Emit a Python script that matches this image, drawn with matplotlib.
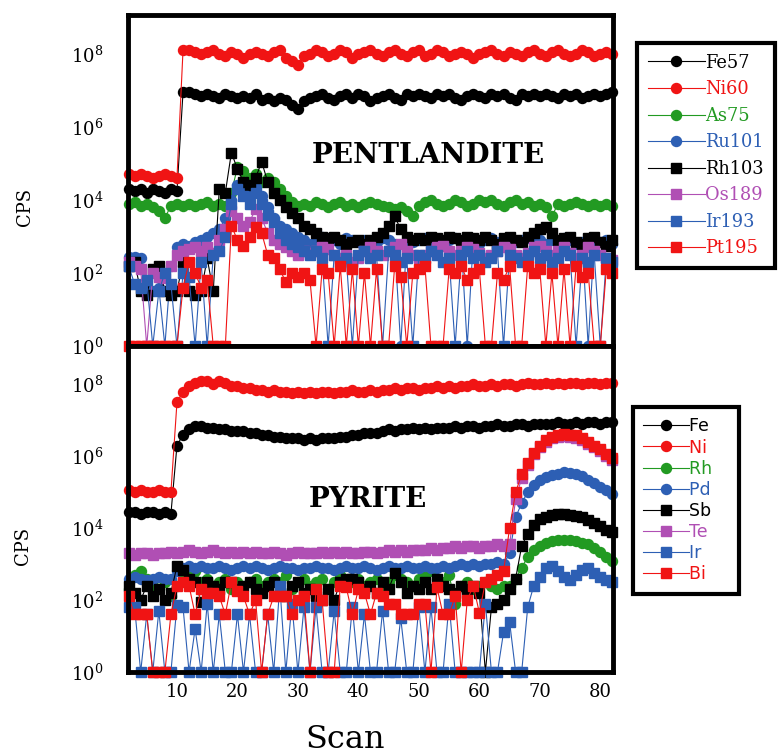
import numpy as np
import matplotlib

matplotlib.use("Agg")
import matplotlib.pyplot as plt
from matplotlib.lines import Line2D

plt.rcParams.update({
    "font.family": "DejaVu Serif",
    "mathtext.fontset": "dejavuserif",
})

# ── Data (log10 of CPS, 0 = no counts) ───────────────────────────────────────
scans = np.arange(2, 83)

# Pentlandite
fe57 = [4.3, 4.25, 4.3, 4.2, 4.3, 4.25, 4.2, 4.3, 4.25, 6.95,
        6.95, 6.9, 6.85, 6.9, 6.85, 6.8, 6.9, 6.85, 6.8, 6.85,
        6.8, 6.9, 6.75, 6.8, 6.7, 6.8, 6.75, 6.6, 6.5, 6.7,
        6.8, 6.85, 6.9, 6.8, 6.75, 6.85, 6.9, 6.8, 6.9, 6.85,
        6.7, 6.8, 6.85, 6.9, 6.8, 6.75, 6.9, 6.85, 6.9,
        6.85, 6.8, 6.9, 6.85, 6.9, 6.8, 6.75, 6.85, 6.9, 6.85,
        6.8, 6.9, 6.85, 6.9, 6.8, 6.75, 6.9, 6.85, 6.9, 6.85,
        6.9, 6.85, 6.8, 6.9, 6.85, 6.9, 6.8, 6.85, 6.9, 6.85, 6.9, 6.95]
ni60 = [4.7, 4.65, 4.7, 4.65, 4.6, 4.65, 4.7, 4.65, 4.6, 8.1,
        8.1, 8.05, 8.0, 8.05, 8.1, 8.0, 7.95, 8.05, 8.0, 7.9,
        8.0, 8.05, 8.0, 7.95, 8.05, 8.1, 7.9, 7.8, 7.7, 7.95,
        8.0, 8.1, 8.05, 7.95, 8.0, 8.1, 8.05, 7.9, 8.0, 8.05,
        8.1, 8.0, 7.95, 8.05, 8.1, 8.0, 7.95, 8.05, 8.1,
        7.95, 8.0, 8.1, 8.05, 7.95, 8.0, 8.05, 8.0, 7.9, 8.0,
        8.05, 8.1, 8.0, 7.95, 8.05, 8.0, 7.95, 8.05, 8.1, 8.0,
        7.95, 8.05, 8.1, 8.0, 7.95, 8.0, 8.1, 8.05, 7.95, 8.0, 8.05, 8.0]
as75 = [3.9, 3.95, 3.85, 3.9, 3.8, 3.7, 3.5, 3.85, 3.9, 3.85,
        3.9, 3.85, 3.9, 3.95, 3.85, 3.9, 3.85, 4.2, 4.9, 4.8,
        4.6, 4.7, 4.5, 4.6, 4.5, 4.3, 4.1, 3.95, 3.85, 3.9,
        3.85, 3.95, 3.9, 3.8, 3.9, 3.95, 3.85, 3.9, 3.8, 3.9,
        3.95, 3.9, 3.85, 3.8, 3.75, 3.8, 3.7, 3.55, 3.85,
        3.95, 4.0, 3.9, 3.85, 3.9, 4.0, 3.95, 3.85, 3.9, 4.0,
        3.95, 4.0, 3.9, 3.85, 3.95, 4.0, 3.9, 3.95, 3.85, 3.9,
        3.8, 3.55, 3.9, 3.85, 3.9, 3.95, 3.9, 3.85, 3.9, 3.85, 3.9, 3.85]
ru101 = [2.45, 2.45, 2.4, 1.55, 1.5, 1.6, 0, 2.2, 2.7, 2.8,
         2.75, 2.85, 2.9, 3.0, 3.1, 3.2, 3.5, 4.0, 4.4, 4.3,
         4.2, 4.35, 4.1, 3.8, 3.5, 3.3, 3.2, 3.1, 3.0, 2.9,
         2.8, 2.9, 3.0, 2.85, 2.9, 2.8, 2.95, 2.9, 2.85, 2.9,
         2.8, 2.85, 2.95, 2.9, 2.8, 0, 2.9, 2.85, 2.9,
         2.95, 2.9, 2.8, 2.85, 2.9, 2.95, 2.85, 0, 2.9, 2.8,
         2.9, 2.95, 2.85, 2.9, 2.8, 2.85, 2.9, 2.95, 2.85, 2.9,
         2.8, 2.9, 2.85, 2.95, 2.9, 2.8, 2.85, 0, 2.9, 2.85, 2.9, 2.8]
rh103 = [2.2, 2.3, 1.5, 1.4, 2.1, 2.2, 1.5, 1.4, 1.5, 2.3,
         1.5, 1.4, 1.5, 2.4, 1.5, 4.3, 4.2, 5.3, 4.85, 4.5,
         4.4, 4.6, 5.05, 4.5, 4.2, 4.0, 3.8, 3.65, 3.5, 3.3,
         3.2, 3.1, 3.0, 2.95, 3.0, 2.9, 2.8, 2.85, 2.9, 2.8,
         2.9, 3.0, 3.1, 3.3, 3.55, 3.2, 3.0, 2.9, 2.95,
         2.9, 3.0, 2.95, 2.9, 3.0, 2.95, 2.9, 3.0, 2.95, 2.9,
         3.0, 2.9, 2.8, 2.95, 3.0, 2.9, 2.85, 3.0, 3.1, 3.2,
         3.25, 3.1, 2.9, 2.95, 3.0, 2.85, 2.8, 2.95, 3.0, 2.85, 2.75, 2.9]
os189 = [2.3, 2.2, 2.1, 0, 2.0, 1.9, 1.85, 2.2, 2.5, 2.6,
         2.65, 2.7, 2.6, 2.7, 2.55, 2.9, 3.2, 3.7, 3.5, 3.3,
         3.4, 3.75, 3.5, 3.1, 2.9, 2.8, 2.7, 2.6, 2.5, 2.6,
         2.55, 2.6, 2.7, 2.65, 2.5, 2.4, 2.5, 2.3, 2.4, 2.6,
         2.7, 2.6, 2.5, 2.6, 2.7, 2.8, 2.6, 2.5, 2.4,
         2.5, 2.6, 2.7, 2.75, 2.6, 2.5, 2.6, 2.7, 2.65, 2.55,
         2.4, 2.5, 2.6, 2.7, 2.65, 2.5, 2.4, 2.55, 2.7, 2.75,
         2.6, 2.5, 2.6, 2.7, 2.55, 2.4, 2.5, 2.7, 2.6, 2.5, 2.4, 2.35]
ir193 = [2.2, 1.7, 1.6, 1.8, 0, 1.5, 2.0, 1.7, 0, 2.0,
         1.9, 0, 2.3, 0, 2.5, 2.6, 3.0, 3.9, 4.3, 4.1,
         3.9, 4.2, 3.9, 3.6, 3.4, 3.1, 2.9, 2.8, 2.7, 2.6,
         2.5, 2.6, 2.4, 0, 2.5, 2.3, 2.4, 0, 2.5, 2.6,
         2.4, 2.5, 0, 2.6, 2.5, 2.3, 2.4, 0, 2.5,
         2.4, 2.6, 2.5, 2.3, 2.4, 0, 2.5, 2.6, 2.4, 2.5,
         2.3, 2.4, 2.6, 0, 2.5, 2.4, 2.3, 2.5, 2.6, 2.4,
         2.5, 2.3, 2.4, 2.6, 2.5, 0, 2.4, 2.3, 2.5, 0, 2.4, 2.3]
pt195 = [0, 0, 0, 0, 0, 0, 0, 0, 0, 1.6,
         2.3, 2.0, 1.6, 1.8, 0, 0, 0, 3.3, 2.9, 2.75,
         3.0, 3.25, 3.1, 2.5, 2.4, 2.1, 1.75, 2.0, 1.9, 2.0,
         1.8, 0, 2.1, 2.0, 0, 2.2, 0, 2.1, 0, 2.0,
         0, 2.1, 0, 0, 2.2, 1.9, 0, 2.0, 2.1,
         2.2, 0, 0, 0, 2.1, 2.0, 2.2, 1.8, 2.0, 2.1,
         0, 0, 2.0, 1.8, 2.2, 0, 0, 2.2, 2.0, 2.1,
         0, 2.0, 0, 2.1, 0, 2.2, 1.9, 2.0, 0, 0, 2.1, 2.0]

# Pyrite
fe = [4.45, 4.45, 4.4, 4.45, 4.45, 4.4, 4.45, 4.4, 6.3, 6.6,
      6.75, 6.85, 6.85, 6.8, 6.8, 6.75, 6.75, 6.7, 6.7, 6.7,
      6.65, 6.65, 6.6, 6.6, 6.55, 6.55, 6.5, 6.5, 6.5, 6.45,
      6.5, 6.45, 6.5, 6.5, 6.5, 6.55, 6.55, 6.6, 6.6, 6.65,
      6.65, 6.65, 6.7, 6.75, 6.7, 6.75, 6.75, 6.8, 6.75,
      6.8, 6.75, 6.8, 6.8, 6.8, 6.85, 6.8, 6.85, 6.85, 6.8,
      6.85, 6.85, 6.9, 6.85, 6.85, 6.9, 6.9, 6.85, 6.9, 6.9,
      6.9, 6.9, 6.95, 6.9, 6.9, 6.95, 6.9, 6.95, 6.95, 6.9, 6.95, 6.95]
ni = [5.05, 5.0, 5.05, 5.0, 5.0, 5.05, 5.0, 5.0, 7.5, 7.8,
      7.95, 8.05, 8.1, 8.1, 8.0, 8.1, 8.05, 7.95, 7.95, 7.9,
      7.9, 7.85, 7.85, 7.8, 7.85, 7.8, 7.8, 7.75, 7.8, 7.75,
      7.8, 7.75, 7.8, 7.8, 7.75, 7.8, 7.8, 7.85, 7.8, 7.8,
      7.85, 7.8, 7.85, 7.85, 7.9, 7.85, 7.9, 7.9, 7.85,
      7.9, 7.9, 7.95, 7.9, 7.95, 7.9, 7.95, 7.95, 8.0, 7.95,
      7.95, 8.0, 7.95, 8.0, 8.0, 7.95, 8.0, 8.05, 8.0, 8.0,
      8.05, 8.0, 8.05, 8.0, 8.05, 8.05, 8.0, 8.05, 8.05, 8.0, 8.05, 8.05]
rh = [2.3, 2.7, 2.8, 2.6, 2.4, 2.3, 2.5, 2.1, 2.4, 2.6,
      2.7, 2.8, 2.5, 2.6, 2.4, 2.5, 2.6, 2.3, 2.5, 2.4,
      2.5, 2.6, 2.4, 2.5, 2.6, 2.5, 2.7, 2.3, 2.5, 2.6,
      2.4, 2.5, 2.6, 2.3, 2.5, 2.7, 2.4, 2.5, 2.6, 2.4,
      2.5, 2.6, 2.4, 2.5, 2.7, 2.6, 2.5, 2.4, 2.6,
      2.7, 2.8, 2.6, 2.5, 2.7, 1.9, 2.4, 2.5, 2.3, 2.4,
      2.5, 2.4, 2.3, 2.4, 2.4, 2.6, 2.9, 3.2, 3.4, 3.5,
      3.58, 3.63, 3.66, 3.68, 3.67, 3.65, 3.6, 3.55, 3.45, 3.35, 3.2, 3.08]
pd_ = [2.6, 2.65, 2.6, 2.55, 2.6, 2.65, 2.6, 2.6, 2.8, 2.9,
       2.95, 2.9, 2.95, 2.9, 2.9, 2.95, 2.9, 2.85, 2.9, 2.95,
       2.9, 2.95, 2.9, 2.85, 2.9, 2.95, 2.9, 2.9, 2.85, 2.9,
       2.9, 2.95, 2.9, 2.9, 2.85, 2.9, 2.95, 2.9, 2.9, 2.95,
       2.9, 2.85, 2.9, 2.95, 2.9, 2.9, 2.95, 2.9, 2.9,
       2.95, 2.9, 2.9, 2.95, 2.9, 2.95, 3.0, 2.95, 3.0, 2.95,
       3.0, 3.0, 3.05, 3.0, 3.3, 4.3, 4.7, 5.0, 5.2, 5.35,
       5.42, 5.48, 5.52, 5.55, 5.53, 5.5, 5.45, 5.35, 5.25, 5.15, 5.05, 4.95]
sb = [2.4, 2.2, 2.0, 2.4, 2.1, 2.3, 2.0, 2.2, 2.95, 2.85,
      2.6, 2.5, 1.95, 2.5, 2.4, 2.3, 2.5, 2.5, 2.3, 2.4,
      2.5, 2.3, 2.2, 2.4, 2.5, 2.2, 2.1, 2.4, 2.5, 2.2,
      2.3, 2.1, 2.0, 2.3, 2.0, 2.5, 2.6, 2.6, 2.5, 2.3,
      2.4, 2.2, 2.5, 2.3, 2.75, 2.5, 2.2, 2.4, 2.3,
      2.5, 2.3, 2.6, 2.4, 2.3, 2.2, 2.4, 2.3, 2.4, 2.2,
      0, 1.8, 1.9, 2.0, 2.3, 2.6, 3.5, 3.85, 4.1, 4.25,
      4.3, 4.37, 4.4, 4.4, 4.38, 4.35, 4.3, 4.22, 4.15, 4.05, 3.95, 3.9]
te = [3.3, 3.25, 3.3, 3.3, 3.25, 3.3, 3.3, 3.35, 3.3, 3.35,
      3.4, 3.35, 3.3, 3.35, 3.4, 3.35, 3.3, 3.35, 3.3, 3.35,
      3.3, 3.35, 3.3, 3.3, 3.35, 3.3, 3.25, 3.3, 3.35, 3.3,
      3.3, 3.3, 3.35, 3.3, 3.35, 3.3, 3.35, 3.3, 3.3, 3.35,
      3.35, 3.3, 3.35, 3.4, 3.35, 3.4, 3.35, 3.4, 3.4,
      3.4, 3.45, 3.4, 3.45, 3.45, 3.5, 3.45, 3.5, 3.5, 3.45,
      3.5, 3.5, 3.55, 3.5, 3.55, 4.8, 5.4, 5.75, 6.05, 6.25,
      6.4, 6.5, 6.55, 6.57, 6.55, 6.52, 6.45, 6.35, 6.25, 6.15, 6.0, 5.9]
ir = [1.8, 1.8, 0, 1.6, 0, 1.7, 0, 0, 1.85, 1.8,
      0, 1.2, 0, 1.9, 0, 1.6, 0, 0, 1.6, 0,
      1.6, 0, 0, 1.6, 0, 2.4, 0, 1.9, 0, 1.8,
      0, 1.8, 0, 0, 1.7, 0, 0, 1.8, 0, 1.6,
      0, 0, 1.7, 0, 0, 1.5, 0, 0, 1.8,
      0, 1.8, 0, 0, 1.9, 0, 0, 0, 0, 0,
      1.9, 0, 0, 1.1, 1.4, 0, 0, 1.8, 2.4, 2.65,
      2.9, 2.95, 2.8, 2.65, 2.55, 2.7, 2.85, 2.9, 2.75, 2.65, 2.55, 2.5]
bi = [2.1, 1.6, 1.6, 1.6, 0, 0, 0, 1.6, 2.4, 2.5,
      2.4, 1.6, 2.3, 2.2, 2.2, 2.1, 1.6, 2.5, 2.25, 2.1,
      1.6, 2.0, 0, 1.6, 2.1, 2.1, 2.1, 1.6, 2.0, 2.1,
      0, 2.3, 2.0, 0, 0, 2.4, 2.35, 1.6, 2.3, 2.2,
      1.6, 2.2, 2.1, 1.9, 1.9, 1.6, 1.6, 1.6, 1.9,
      1.9, 0, 2.35, 1.6, 1.6, 2.1, 0, 2.0, 2.4, 1.65,
      2.5, 2.6, 2.7, 2.8, 4.0, 5.0, 5.5, 5.8, 6.1, 6.3,
      6.45, 6.55, 6.6, 6.62, 6.6, 6.58, 6.5, 6.4, 6.3, 6.2, 6.05, 5.95]

pent_names = ["Fe57", "Ni60", "As75", "Ru101", "Rh103", "Os189", "Ir193", "Pt195"]
pent_data = [fe57, ni60, as75, ru101, rh103, os189, ir193, pt195]
pyr_names = ["Fe", "Ni", "Rh", "Pd", "Sb", "Te", "Ir", "Bi"]
pyr_data = [fe, ni, rh, pd_, sb, te, ir, bi]

BLACK, RED, GREEN, BLUE, PURPLE = "#000000", "#f01414", "#229a22", "#2d5fb4", "#b04fb4"
colors = [BLACK, RED, GREEN, BLUE, BLACK, PURPLE, BLUE, RED]
markers = ["o", "o", "o", "o", "s", "s", "s", "s"]
MS = 7.2

fig = plt.figure(figsize=(7.78, 7.54), dpi=100)
ax_top = fig.add_axes([0.1645, 0.5411, 0.6234, 0.4390])
ax_bot = fig.add_axes([0.1645, 0.1088, 0.6234, 0.4324])


def draw_panel(ax, data, names):
    for vals, name, c, m in zip(data, names, colors, markers):
        ax.plot(scans, 10 ** np.asarray(vals), color=c, marker=m, ms=MS, mec=c, lw=0.8,
                clip_on=False, label=name)
    ax.set_yscale("log")
    ax.set_ylim(1, 10 ** 9.07)
    ax.set_xlim(1.9, 82.1)
    ax.set_yticks([1, 1e2, 1e4, 1e6, 1e8])
    ax.set_yticklabels([r"$10^{0}$", r"$10^{2}$", r"$10^{4}$", r"$10^{6}$", r"$10^{8}$"])
    ax.minorticks_off()
    ax.tick_params(axis="y", length=0, pad=18, labelsize=13)
    ax.tick_params(axis="x", length=0, pad=8, labelsize=13)
    for sp in ax.spines.values():
        sp.set_linewidth(3.5)


draw_panel(ax_top, pent_data, pent_names)
draw_panel(ax_bot, pyr_data, pyr_names)
ax_top.set_xticks([10, 20, 30, 40, 50, 60, 70, 80])
ax_top.set_xticklabels([])
ax_bot.set_xticks([10, 20, 30, 40, 50, 60, 70, 80])

ax_top.text(0.62, 0.577, "PENTLANDITE", transform=ax_top.transAxes, ha="center", va="center",
            fontsize=20, fontweight="bold")
ax_bot.text(0.495, 0.528, "PYRITE", transform=ax_bot.transAxes, ha="center", va="center",
            fontsize=20, fontweight="bold")

fig.text(0.032, 0.725, "CPS", rotation=90, ha="center", va="center", fontsize=13)
fig.text(0.030, 0.276, "CPS", rotation=90, ha="center", va="center", fontsize=13)
fig.text(345 / 778, 1 - 740 / 754, "Scan", ha="center", va="center", fontsize=23)


def add_legend(ax, labels, anchor, fsize, family, hlen, lspace, bpad):
    handles = [Line2D([], [], color=c, marker=m, ms=MS, mec=c, lw=0.8)
               for c, m in zip(colors, markers)]
    leg = fig.legend(handles, labels, loc="upper left", bbox_to_anchor=anchor,
                     prop={"family": family, "size": fsize}, handlelength=hlen,
                     handletextpad=0.05, labelspacing=lspace, borderpad=bpad,
                     borderaxespad=0, fancybox=False, framealpha=1, edgecolor="black")
    leg.get_frame().set_linewidth(3)
    for t, c in zip(leg.get_texts(), colors):
        t.set_color(c)
    return leg


add_legend(ax_top, pent_names, (637 / 778, 1 - 43 / 754), 12.8, "DejaVu Serif", 3.2, 0.48, 0.6)
add_legend(ax_bot, [n + "   " for n in pyr_names], (633 / 778, 1 - 407 / 754), 12.5,
           "DejaVu Sans", 2.6, 0.18, 0.6)

fig.savefig("out.png", dpi=100)
